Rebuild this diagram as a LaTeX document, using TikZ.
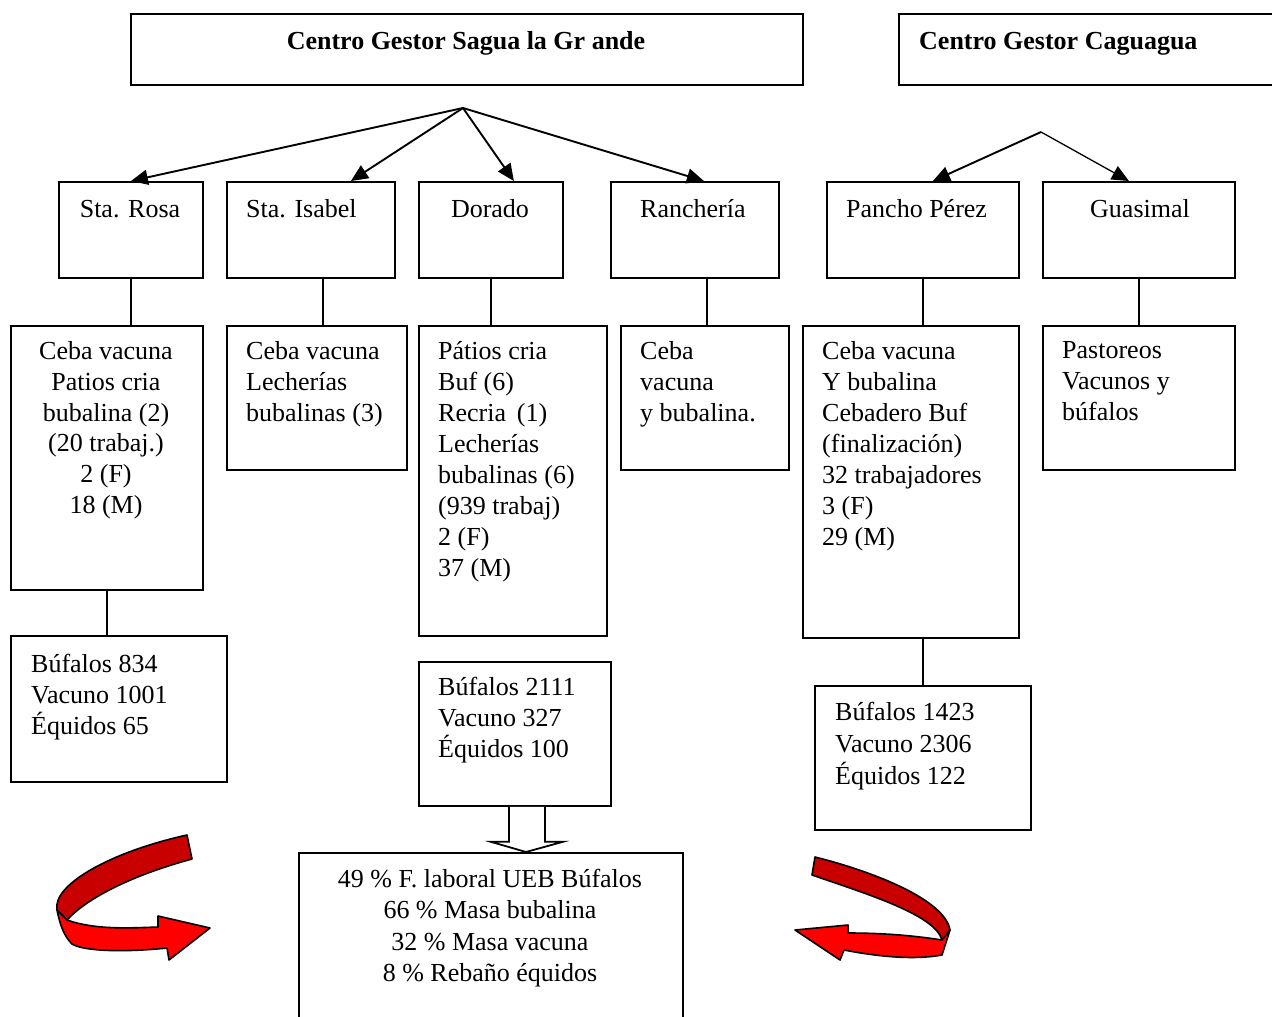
\documentclass[tikz,border=0pt]{standalone}
\usepackage{fontspec}
\setmainfont{Liberation Serif}
\usetikzlibrary{arrows.meta,calc}
\definecolor{darkred}{HTML}{C80000}
\definecolor{brightred}{HTML}{FF0000}
\begin{document}
\begin{tikzpicture}[x=1pt,y=-1pt,
  box/.style={draw, line width=1.8pt, inner sep=0pt, anchor=north west},
  txt/.style={inner sep=0pt, anchor=north west, align=left, font=\fontsize{26}{31}\selectfont, execute at begin node=\strut},
  ctxt/.style={txt, anchor=north, align=center},
  lbl/.style={inner sep=0pt, font=\fontsize{26}{31}\selectfont},
  conn/.style={line width=1.8pt},
  arr/.style={line width=1.9pt, -{Triangle[length=17pt,width=15pt]}},
  curvedark/.style={fill=darkred, draw=black, line width=1.6pt, line join=round},
  curvelight/.style={fill=brightred, draw=black, line width=1.6pt, line join=round}
]
\useasboundingbox (0,0) rectangle (1272,1017);

% top boxes
\node[box, minimum width=672, minimum height=71] (t1) at (130,13) {};
\node[lbl, anchor=base, font=\fontsize{26}{31}\selectfont\bfseries] (t1t) at (466,49) {Centro Gestor Sagua la Gr ande};
\node[box, minimum width=400, minimum height=71] (t2) at (898,13) {};
\node[lbl, anchor=base west, font=\fontsize{26}{31}\selectfont\bfseries] (t2t) at (919,49) {Centro Gestor Caguagua};

% row 2
\node[box, minimum width=144, minimum height=96] (sr) at (58,181) {};
\node[box, minimum width=168, minimum height=96] (si) at (226,181) {};
\node[box, minimum width=144, minimum height=96] (do) at (418,181) {};
\node[box, minimum width=168, minimum height=96] (ra) at (610,181) {};
\node[box, minimum width=192, minimum height=96] (pp) at (826,181) {};
\node[box, minimum width=192, minimum height=96] (gu) at (1042,181) {};
\node[lbl, anchor=base] (srt) at (130,217) {Sta. Rosa};
\node[lbl, anchor=base west] (sit) at (246,217) {Sta. Isabel};
\node[lbl, anchor=base] (dot) at (490,217) {Dorado};
\node[lbl, anchor=base west] (rat) at (640,217) {Ranchería};
\node[lbl, anchor=base west] (ppt) at (846,217) {Pancho Pérez};
\node[lbl, anchor=base] (gut) at (1140,217) {Guasimal};

% row 3
\node[box, minimum width=192, minimum height=264] (srd) at (10,325) {};
\node[box, minimum width=180, minimum height=144] (sid) at (226,325) {};
\node[box, minimum width=188, minimum height=310] (dod) at (418,325) {};
\node[box, minimum width=168, minimum height=144] (rad) at (620,325) {};
\node[box, minimum width=216, minimum height=312] (ppd) at (802,325) {};
\node[box, minimum width=192, minimum height=144] (gud) at (1042,325) {};
\node[ctxt, font=\fontsize{26}{30.8}\selectfont] (srdt) at (106,341.3) {Ceba vacuna\\Patios cria\\bubalina (2)\\(20 trabaj.)\\2 (F)\\18 (M)};
\node[txt] (sidt) at (246,341.3) {Ceba vacuna\\Lecherías\\bubalinas (3)};
\node[txt] (dodt) at (438,341.3) {Pátios cria\\Buf (6)\\Recria\ \,(1)\\Lecherías\\bubalinas (6)\\(939 trabaj)\\2 (F)\\37 (M)};
\node[txt] (radt) at (640,341.3) {Ceba\\vacuna\\y bubalina.};
\node[txt] (ppdt) at (822,341.3) {Ceba vacuna\\Y bubalina\\Cebadero Buf\\(finalización)\\32 trabajadores\\3 (F)\\29 (M)};
\node[txt] (gudt) at (1062,341.3) {Pastoreos\\Vacunos y\\búfalos};

% row 4
\node[box, minimum width=216, minimum height=146] (sra) at (10,635) {};
\node[box, minimum width=192, minimum height=144] (dan) at (418,661) {};
\node[box, minimum width=216, minimum height=144] (ppa) at (814,685) {};
\node[txt] (srat) at (31,653.8) {Búfalos 834\\Vacuno 1001\\Équidos 65};
\node[txt] (dant) at (438,677.3) {Búfalos 2111\\Vacuno 327\\Équidos 100};
\node[txt, font=\fontsize{26}{32}\selectfont] (ppat) at (835,702.3) {Búfalos 1423\\Vacuno 2306\\Équidos 122};

% summary
\node[box, minimum width=384, minimum height=190] (sum) at (298,852) {};
\node[ctxt, font=\fontsize{26}{31.5}\selectfont] (sumt) at (490,868.8) {49 \% F. laboral UEB Búfalos\\66 \% Masa bubalina\\32 \% Masa vacuna\\8 \% Rebaño équidos};

% fan arrows
\coordinate (f1) at (463,108);
\coordinate (f2) at (1041,132);
\draw[arr] (f1) -- (sr.north);
\draw[arr] (f1) -- ($(si.north)+(40,0)$);
\draw[arr] (f1) -- ($(do.north)+(23,0)$);
\draw[arr] (f1) -- ($(ra.north)+(9,0)$);
\draw[arr] (f2) -- ($(pp.north)+(10,0)$);
\draw[arr, line width=1.3pt] (f2) -- ($(gu.north)+(-10,0)$);

% vertical connectors
\draw[conn] (sr.south) -- (sr.south |- srd.north);
\draw[conn] ($(si.south)+(12,0)$) -- ($(si.south)+(12,48)$);
\draw[conn] (do.south) -- (do.south |- dod.north);
\draw[conn] ($(ra.south)+(12,0)$) -- ($(ra.south)+(12,48)$);
\draw[conn] (pp.south) -- (pp.south |- ppd.north);
\draw[conn] (gu.south) -- (gu.south |- gud.north);
\draw[conn] (srd.south) -- (srd.south |- sra.north);
\draw[conn] (ppa.north) -- (ppa.north |- ppd.south);

% hollow block arrow
\draw[line width=1.8pt, fill=white, line join=miter]
  ($(dan.south)+(-6,0)$) -- ($(dan.south)+(-6,35)$) -- ($(dan.south)+(-24,35)$)
  -- (sum.north -| 526,0) -- ($(dan.south)+(48,35)$) -- ($(dan.south)+(30,35)$)
  -- ($(dan.south)+(30,0)$);

% left curved arrow
\draw[curvedark] (187,835) -- (192,859) .. controls (140,873) and (90,895) .. (67,920)
  -- (57,910) .. controls (52,885) and (110,852) .. (187,835) -- cycle;
\draw[curvelight] (57,910) -- (67,920) .. controls (95,930) and (130,928) .. (158,927)
  -- (158,916) -- (210,928) -- (169,960) -- (167,948)
  .. controls (130,952) and (85,952) .. (72,944) .. controls (64,936) and (60,925) .. (57,910) -- cycle;

% right curved arrow
\draw[curvedark] (815,857) .. controls (875,872) and (945,900) .. (950,930)
  -- (942,940) .. controls (935,915) and (870,895) .. (812,875) -- cycle;
\draw[curvelight] (942,940) .. controls (910,935) and (880,933) .. (848,933)
  -- (848,925) -- (795,930) -- (840,960) -- (844,950)
  .. controls (880,957) and (915,960) .. (942,955) -- (950,930) -- cycle;
\end{tikzpicture}
\end{document}
